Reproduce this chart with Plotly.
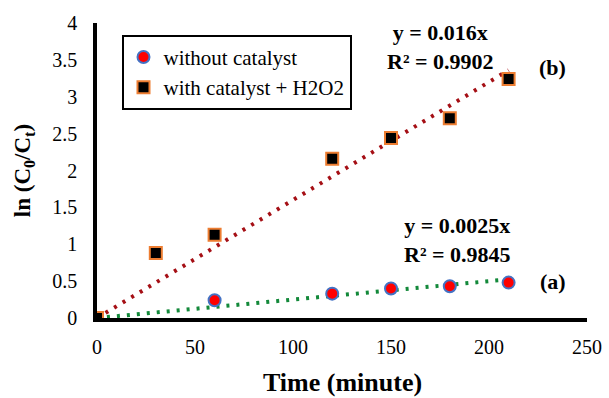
import plotly.graph_objects as go

time_a = [0, 60, 120, 150, 180, 210]
ln_a = [0, 0.24, 0.33, 0.40, 0.43, 0.48]
time_b = [0, 30, 60, 120, 150, 180, 210]
ln_b = [0, 0.88, 1.13, 2.16, 2.44, 2.71, 3.24]
slope_a = 0.0025
slope_b = 0.016
fit_x = [0, 210]
x_ticks = [0, 50, 100, 150, 200, 250]
y_ticks = [0, 0.5, 1, 1.5, 2, 2.5, 3, 3.5, 4]
series_names = ["without catalyst", "with catalyst + H2O2"]

FONT = "Liberation Serif"


def serif(t):
    return f"<span style='font-family:{FONT}'>{t}</span>"


fig = go.Figure()
fig.add_trace(go.Scatter(x=fit_x, y=[slope_b * v for v in fit_x], mode="lines",
                         line=dict(color="#A50F15", width=4, dash="3px,7px"), showlegend=False))
fig.add_trace(go.Scatter(x=fit_x, y=[slope_a * v for v in fit_x], mode="lines",
                         line=dict(color="#13893A", width=4, dash="3px,7px"), showlegend=False))
fig.add_trace(go.Scatter(x=time_a, y=ln_a, mode="markers", name=serif(series_names[0]),
                         marker=dict(symbol="circle", size=12, color="#FF0000",
                                     line=dict(color="#4472C4", width=2))))
fig.add_trace(go.Scatter(x=time_b, y=ln_b, mode="markers", name=serif(series_names[1]),
                         marker=dict(symbol="square", size=12, color="#000000",
                                     line=dict(color="#ED7D31", width=2))))

ann_font = dict(family=FONT, size=22, color="black")
fig.add_annotation(x=0.70, y=0.92, xref="paper", yref="paper", xanchor="center", yanchor="middle",
                   text="<b>y = 0.016x<br>R² = 0.9902</b>", showarrow=False, align="center", font=ann_font)
fig.add_annotation(x=0.93, y=0.848, xref="paper", yref="paper", xanchor="center", yanchor="middle",
                   text="<b>(b)</b>", showarrow=False, font=ann_font)
fig.add_annotation(x=0.736, y=0.265, xref="paper", yref="paper", xanchor="center", yanchor="middle",
                   text="<b>y = 0.0025x<br>R² = 0.9845</b>", showarrow=False, align="center", font=ann_font)
fig.add_annotation(x=0.93, y=0.125, xref="paper", yref="paper", xanchor="center", yanchor="middle",
                   text="<b>(a)</b>", showarrow=False, font=ann_font)
# x-axis title placed explicitly below the tick labels
fig.add_annotation(x=0.5, y=-0.217, xref="paper", yref="paper", xanchor="center", yanchor="middle",
                   text="<b>Time (minute)</b>", showarrow=False,
                   font=dict(family=FONT, size=26, color="black"))

tickfont = dict(family=FONT, size=20, color="black", weight=400)
fig.update_layout(
    width=609, height=398,
    margin=dict(l=97, r=22, t=23, b=80),
    plot_bgcolor="white", paper_bgcolor="white",
    font=dict(family=FONT, size=20, color="black"),
    legend=dict(x=0.05, y=0.96, xanchor="left", yanchor="top",
                bordercolor="black", borderwidth=2, bgcolor="white",
                font=dict(family=FONT, size=21, color="black", weight=400),
                tracegroupgap=0, itemsizing="constant", itemwidth=30),
    xaxis=dict(range=[0, 250], tickvals=x_ticks, ticktext=[serif(v) for v in x_ticks],
               showgrid=False, zeroline=False, automargin=False,
               showline=True, linecolor="black", linewidth=3.5, ticks="",
               tickfont=tickfont, ticklabelstandoff=8),
    yaxis=dict(range=[0, 4], tickvals=y_ticks, ticktext=[serif(v) for v in y_ticks],
               showgrid=False, zeroline=False, automargin=False,
               showline=True, linecolor="black", linewidth=3.5, ticks="",
               tickfont=tickfont, ticklabelstandoff=12,
               title=dict(text="<b>ln (C<sub>0</sub>/C<sub>t</sub>)</b>", font=dict(family=FONT, size=23), standoff=16)),
)
fig.write_html("out.html")
